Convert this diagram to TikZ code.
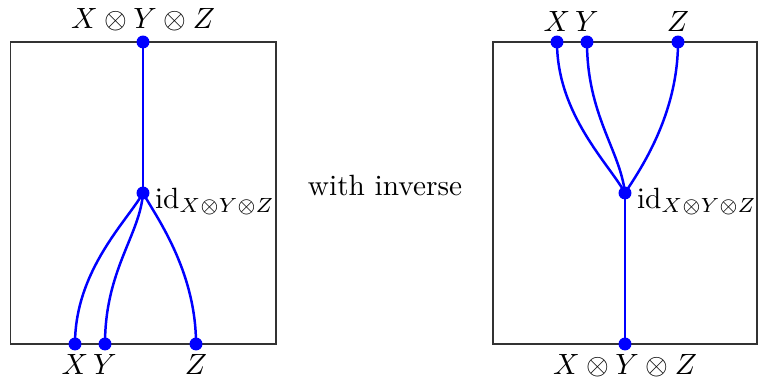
\documentclass[tikz,border=0pt]{standalone}
\usetikzlibrary{positioning}
\tikzset{
	wdot/.style={circle, fill=blue, inner sep=0pt, minimum size=0.155cm},
	wire/.style={draw=blue, line width=0.85pt},
	frame/.style={draw=black!80, line width=0.45pt}
}
\begin{document}
\begin{tikzpicture}[x=0.012cm, y=-0.012cm, label distance=0pt,
		every label/.style={inner sep=1pt}]
	\useasboundingbox (0,0) rectangle (758,380);
	% left: the three strands merge
	\draw[frame] (10.5,42) rectangle (276,344);
	\node[wdot, label=above:{$X\otimes Y\otimes Z$}] (lTop) at (143,42) {};
	\node[wdot, label={[xshift=0.5pt,yshift=-3pt]right:{$\mathrm{id}_{X\otimes Y\otimes Z}$}}] (lMid) at (143,193) {};
	\node[wdot, label=below:{$X$}] (lX) at (75,344) {};
	\node[wdot, label=below:{$Y$}] (lY) at (105,344) {};
	\node[wdot, label=below:{$Z$}] (lZ) at (196,344) {};
	\draw[wire] (lTop.center) -- (lMid.center);
	\draw[wire] (lX.center) .. controls (75,270) and (128,220) .. (lMid.center);
	\draw[wire] (lY.center) .. controls (105,270) and (140,235) .. (lMid.center);
	\draw[wire] (lZ.center) .. controls (196,270) and (155,215) .. (lMid.center);

	\node (inv) at (385,186) {with inverse};

	% right: the inverse splits them again
	\draw[frame] (493,42) rectangle (757,344);
	\node[wdot, label=above:{$X$}] (rX) at (557,42) {};
	\node[wdot, label=above:{$Y$}] (rY) at (587,42) {};
	\node[wdot, label=above:{$Z$}] (rZ) at (678,42) {};
	\node[wdot, label={[xshift=0.5pt,yshift=-3pt]right:{$\mathrm{id}_{X\otimes Y\otimes Z}$}}] (rMid) at (625,193) {};
	\node[wdot, label=below:{$X\otimes Y\otimes Z$}] (rBot) at (625,344) {};
	\draw[wire] (rX.center) .. controls (557,115) and (610,165) .. (rMid.center);
	\draw[wire] (rY.center) .. controls (587,115) and (620,150) .. (rMid.center);
	\draw[wire] (rZ.center) .. controls (678,115) and (640,170) .. (rMid.center);
	\draw[wire] (rMid.center) -- (rBot.center);
\end{tikzpicture}
\end{document}
